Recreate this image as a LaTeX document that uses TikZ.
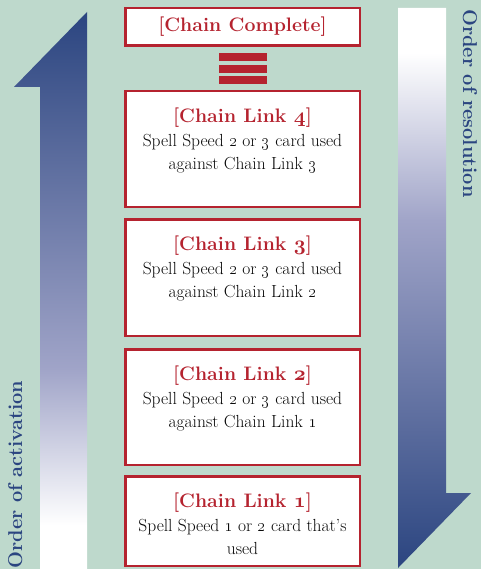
\documentclass[tikz,border=0pt]{standalone}
\usepackage{tikz}
\usetikzlibrary{positioning}

\definecolor{chainred}{RGB}{181,35,47}
\definecolor{chainblue}{RGB}{43,69,128}
\definecolor{chainlav}{RGB}{160,164,200}
\definecolor{chainbg}{RGB}{190,217,204}
\definecolor{chaintext}{RGB}{10,10,10}

\pgfdeclareverticalshading{activshade}{100bp}{color(0bp)=(white); color(29bp)=(white); color(43bp)=(chainlav); color(75bp)=(chainblue); color(100bp)=(chainblue)}
\pgfdeclareverticalshading{resolshade}{100bp}{color(0bp)=(chainblue); color(25bp)=(chainblue); color(56bp)=(chainlav); color(71bp)=(white); color(100bp)=(white)}

\newcommand{\chaintitle}[1]{{\color{chainred}\fontsize{19.5}{23.5}\selectfont\bfseries #1}}
\newcommand{\bnum}[1]{{\usefont{OML}{cmm}{b}{it}#1}}% bold old style figures

\begin{document}
\begin{tikzpicture}[x=1pt,y=-1pt,
		linkbox/.style={draw=chainred, line width=2.5pt, fill=white, minimum width=234.5pt, inner sep=0pt},
		linktext/.style={align=center, inner sep=0pt, text=chaintext, font=\fontsize{17.5}{23.5}\selectfont},
		vlabel/.style={inner sep=0pt, text=chainblue, font=\fontsize{20}{24}\selectfont\bfseries}]
		
		\useasboundingbox (0,0) rectangle (481,569);
		\fill[chainbg] (0,0) rectangle (481,569);
		
		% arrows
		\shade[shading=activshade] (40,570) -- (40,87) -- (14,87) -- (87,12) -- (87,570) -- cycle;
		\shade[shading=resolshade] (398,8) -- (446,8) -- (446,493) -- (471,493) -- (398,568) -- cycle;
		
		\node[vlabel, rotate=90, anchor=base west] (act) at (22,568.5) {Order of activation};
		\node[vlabel, rotate=-90, anchor=base west] (res) at (463,9) {Order of resolution};
		
		%%%%%%%%%%%%%%%%%%%%%%%%%%%%%%
		
		\node[linkbox, minimum height=37.5pt] (CC) at (242.5,27) {\chaintitle{[Chain Complete]}};
		\foreach \y in {53,65,76}
			\fill[chainred] (219,\y) rectangle (267,\y+8);
		
		\node[linkbox, minimum height=115.5pt] (CL4) at (242.5,149) {};
		\node[linkbox, minimum height=116.5pt] (CL3) at (242.5,277.5) {};
		\node[linkbox, minimum height=115.5pt] (CL2) at (242.5,407) {};
		\node[linkbox, minimum height=89.5pt] (CL1) at (242.5,521) {};
		
		\node[linktext, below=18pt of CL4.north] (T4) {\chaintitle{[Chain Link \bnum{4}]}\\Spell Speed \oldstylenums{2} or \oldstylenums{3} card used\\against Chain Link \oldstylenums{3}};
		\node[linktext, below=18pt of CL3.north] (T3) {\chaintitle{[Chain Link \bnum{3}]}\\Spell Speed \oldstylenums{2} or \oldstylenums{3} card used\\against Chain Link \oldstylenums{2}};
		\node[linktext, below=18pt of CL2.north] (T2) {\chaintitle{[Chain Link \bnum{2}]}\\Spell Speed \oldstylenums{2} or \oldstylenums{3} card used\\against Chain Link \oldstylenums{1}};
		\node[linktext, below=18pt of CL1.north] (T1) {\chaintitle{[Chain Link \bnum{1}]}\\Spell Speed \oldstylenums{1} or \oldstylenums{2} card that's\\used};
		
	\end{tikzpicture}
\end{document}
